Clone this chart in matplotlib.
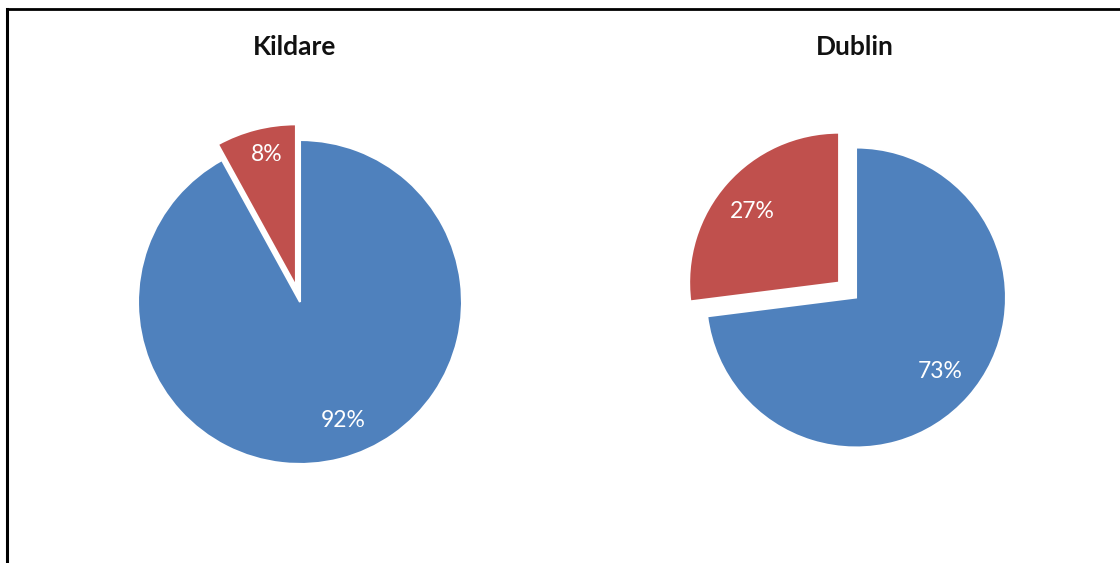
import matplotlib
matplotlib.use("Agg")
import matplotlib.pyplot as plt
from matplotlib.lines import Line2D
import numpy as np

plt.rcParams['font.family'] = ['Lato', 'DejaVu Sans']

titles = ["Kildare", "Dublin"]
values_kildare = [92, 8]
values_dublin = [73, 27]
colors = ["#4F81BD", "#C0504D"]

W, H = 1120, 563
fig = plt.figure(figsize=(W / 100, H / 100), dpi=100)

def make_ax(cx, cy, r, lim=1.5):
    size = 2 * lim * r
    return fig.add_axes([(cx - size / 2) / W, (H - cy - size / 2) / H, size / W, size / H])

def draw(ax, vals, explode_red, lab_dists, lab_angle_shift):
    wedges, texts, autotexts = ax.pie(
        vals, colors=colors, startangle=90, counterclock=False,
        explode=[0, explode_red], autopct='%d%%',
        wedgeprops=dict(edgecolor='white', linewidth=1.5),
        textprops=dict(color='white', fontsize=16.5))
    for w, t, sh, d in zip(wedges, autotexts, lab_angle_shift, lab_dists):
        ang = np.deg2rad((w.theta1 + w.theta2) / 2 + sh)
        cx, cy = w.center
        t.set_position((cx + d * np.cos(ang), cy + d * np.sin(ang)))
        t.set_ha('center'); t.set_va('center')
    ax.set_xlim(-1.5, 1.5)
    ax.set_ylim(-1.5, 1.5)
    ax.set_aspect('equal')
    ax.axis('off')

ax1 = make_ax(300, 302, 162)
draw(ax1, values_kildare, 0.1, [0.78, 0.83], [5.5, -2])
ax2 = make_ax(856, 297.5, 150)
draw(ax2, values_dublin, 0.15, [0.75, 0.75], [0, 2])

fig.text(295 / W, 1 - 47 / H, titles[0], ha='center', va='center', fontsize=19, fontweight='bold', color='#111111')
fig.text(855 / W, 1 - 47 / H, titles[1], ha='center', va='center', fontsize=19, fontweight='bold', color='#111111')

# border (top and left)
fig.add_artist(Line2D([6.5 / W, 1], [1 - 8.5 / H, 1 - 8.5 / H], color='black', lw=2, transform=fig.transFigure))
fig.add_artist(Line2D([6.5 / W, 6.5 / W], [0, 1 - 8.5 / H], color='black', lw=2.2, transform=fig.transFigure))

fig.savefig("out.png", dpi=100)
